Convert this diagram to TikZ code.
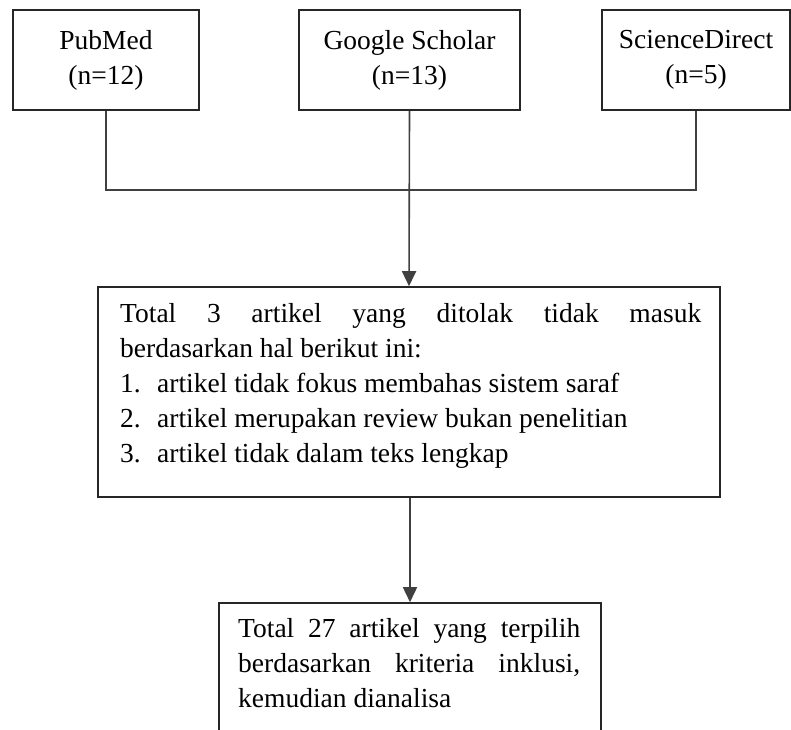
\documentclass[tikz,border=0pt]{standalone}
\usepackage{fontspec}
\setmainfont{Liberation Serif}
\usetikzlibrary{arrows.meta}
\begin{document}
\begin{tikzpicture}[x=1pt,y=-1pt,
  box/.style={draw=black!85, line width=1.6pt, rectangle, inner sep=0pt},
  conn/.style={draw=black!75, line width=1.6pt},
  arr/.style={conn, -{Triangle[width=14pt,length=15pt]}},
  txt/.style={inner sep=0pt, font=\fontsize{27.5}{35}\selectfont}
]
\useasboundingbox (0,0) rectangle (791,729);
\clip (0,0) rectangle (791,729);
% top boxes
\node[box, minimum width=186pt, minimum height=100pt] (pm) at (106,60) {};
\node[box, minimum width=221pt, minimum height=100pt] (gs) at (409.5,60) {};
\node[box, minimum width=188pt, minimum height=100pt] (sd) at (696,60) {};
\node[txt, align=center] (pmt) at (106,60) {PubMed\\(n=12)};
\node[txt, align=center] (gst) at (409.5,60) {Google Scholar\\(n=13)};
\node[txt, align=center] (sdt) at (696,60) {ScienceDirect\\(n=5)};
% middle box
\node[box, minimum width=622pt, minimum height=210pt] (mid) at (409,392) {};
\node[txt, anchor=base west] (midt) at (120,322) {\parbox[t]{581pt}{%
\makebox[\linewidth][s]{Total 3 artikel yang ditolak tidak masuk}\\
berdasarkan hal berikut ini:\\
\makebox[37pt][l]{1.}artikel tidak fokus membahas sistem saraf\\
\makebox[37pt][l]{2.}artikel merupakan review bukan penelitian\\
\makebox[37pt][l]{3.}artikel tidak dalam teks lengkap}};
% bottom box
\node[box, minimum width=382pt, minimum height=150pt] (bot) at (410,678) {};
\node[txt, anchor=base west] (bott) at (238,637) {\parbox[t]{342pt}{%
\makebox[\linewidth][s]{Total 27 artikel yang terpilih}\\
\makebox[\linewidth][s]{berdasarkan kriteria inklusi,}\\
kemudian dianalisa}};
% connectors
\coordinate (j) at (409.5,190);
\draw[conn] (pm.south) |- (j) -| (sd.south);
\draw[arr] (gs.south) -- (mid.north);
\draw[arr] (mid.south -| bot.north) -- (bot.north);
\end{tikzpicture}
\end{document}
